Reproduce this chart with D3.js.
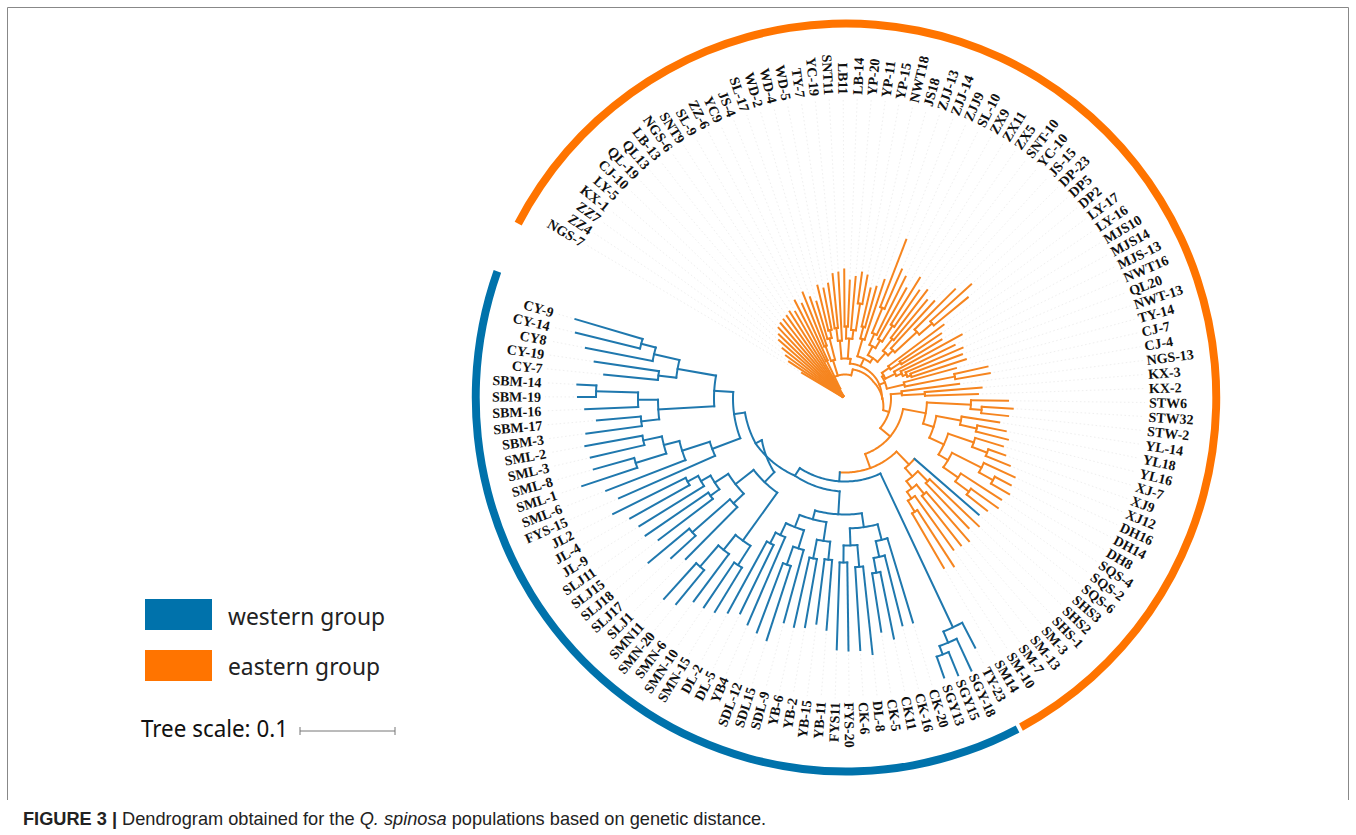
<!DOCTYPE html>
<html><head><meta charset="utf-8">
<script src="https://cdn.jsdelivr.net/npm/d3@7"></script>
<style>html,body{margin:0;padding:0;background:#fff}svg{display:block}</style>
</head><body><svg id="c" width="1356" height="835"></svg>
<script>
// ---------- data ----------
const leaves = ["NGS-7","ZZ4","ZZ7","KX-1","LY-5","CJ-10","QL-19","QL13","LB-13","NGS-6","SNT9","SL-9","ZZ-6","YC9","JS-4","SL-17","WD-2","WD-4","WD-5","TY-7","YC-19","SNT11","LB11","LB-14","YP-20","YP-11","YP-15","NWT18","JS18","ZJJ-13","ZJJ-14","ZJJ9","SL-10","ZX9","ZX11","ZX5","SNT-10","YC-10","JS-15","DP-23","DP5","DP2","LY-17","LY-16","MJS10","MJS14","MJS-13","NWT16","QL20","NWT-13","TY-14","CJ-7","CJ-4","NGS-13","KX-3","KX-2","STW6","STW32","STW-2","YL-14","YL18","YL16","XJ-7","XJ9","XJ12","DH16","DH14","DH8","SQS-4","SQS-2","SQS-6","SHS3","SHS2","SHS-1","SM-3","SM-13","SM-7","SM-10","SM14","TY-23","SGY-18","SGY15","SGY13","CK-20","CK-16","CK11","CK-5","DL-8","CK-6","FYS-20","FYS11","YB-11","YB-15","YB-2","YB-6","SDL-9","SDL15","SDL-12","YB4","DL-5","DL-2","SMN-15","SMN-10","SMN-6","SMN-20","SMN11","SLJ1","SLJ17","SLJ18","SLJ15","SLJ11","JL-9","JL-4","JL2","FYS-15","SML-6","SML-1","SML-8","SML-3","SML-2","SBM-3","SBM-17","SBM-16","SBM-19","SBM-14","CY-7","CY-19","CY8","CY-14","CY-9"];
// distance of each leaf from the centre (95 units = tree scale 0.1)
const tipDistance = [50,67,73,80,88,92,97,99,100,101,103,100,110,104,114,107,101,116,112,116,125,126,129,118,122,127,125,113,116,125,170,141,136,126,142,131,136,128,132,155,170,159,123,116,113,133,122,128,125,127,115,146,147,115,137,133,163,168,164,156,164,168,165,170,178,187,187,190,186,188,181,177,185,179,189,187,186,200,196,281,300,299,296,234,234,245,236,257,252,252,251,232,227,232,234,232,254,250,246,239,244,250,252,253,266,270,226,236,256,234,242,242,246,259,247,256,277,261,261,264,261,249,260,267,268,242,253,264,277,281];
// first/last leaf of the western group; one western leaf sits inside the eastern clade
const westernRange = [79,129], westernExtra = [71];
const groupNames = ["western group","eastern group"];
const groupColors = ["#0072AB","#FF7400"];
const branchColors = ["#1F78AE","#F6851F"];
// ring spans in degrees clockwise from 12 o'clock
const ringWestern = [152.4,289.7], ringEastern = [-62.3,151.8];
const treeScaleLabel = "Tree scale: 0.1";
const treeScaleDistance = 95;

// tree: [distance, ...children]; integers are leaves. {r,at,bend,kids} for bent/offset nodes.
const P0 = [3,0,1,2,3,4,5,6,7,8,9,10,11];
const P1 = [11,P0,[42,12,13]];
const N14_18 = [40,[56,14,15],[62,16,[70,17,18]]];
const P2 = {r:24,at:15,kids:[P1,N14_18]};
const M1 = {r:40,at:8,kids:[[58,[71,19,20],21],[60,[72,22,23],[69,24,[96,25,26]]]]};
const N27_29 = [62,[74,27,28],29];
const N_A = [59,[71,[98,30,31],32],[68,33,[87,34,35]]];
const N_B = [61,[76,36,37],[68,38,[98,39,[115,40,41]]]];
const N_C = [49,N_A,N_B];
const M3 = [44,N27_29,N_C];
const K1 = [45,[54,42,[66,43,44]],[56,45,[62,46,[66,47,[70,48,49]]]]];
const K = [43,K1,[61,50,[112,51,52]]];
const R2 = {at:90,bend:[[0,35],[60,37],[90,37]],kids:[M1,M3,K]};
const E3 = {at:107,bend:[[15,30],[60,33],[107,40]],kids:[P2,R2]};
const Q = [57,53,[80,54,55]];
const E2 = {r:46,at:130,kids:[Q,E3]};
const Y1 = [126,56,[137,57,58]];
const Y3 = [118,59,[135,60,61]];
const Y5 = [136,62,[152,63,64]];
const Y7 = [153,65,[169,66,67]];
const Y8 = [138,68,[155,69,70]];
const Y = [82,Y1,[93,Y3,[109,Y5,[120,Y7,Y8]]]];
const E1 = {r:59,at:160,kids:[Y,E2]};
const Z = {r:92,at:135.9,kids:[71,[103,[117,72,73],[112,[124,74,75],[120,76,[133,77,78]]]]]};
const T = [253,79,[265,80,[274,81,82]]];
const BR = [130,[146,83,[162,84,[177,85,86]]],[147,[169,87,88],[164,89,90]]];
const BL = [125,[144,[162,91,92],[163,93,94]],[138,[157,95,[176,96,97]],[151,98,[163,99,100]]]];
const BOT = [116,BR,BL];
const LB = [175,[198,101,102],[194,103,[222,104,105]]];
const LA = [139,[153,106,[203,107,108]],[155,[166,109,110],[166,111,[178,112,113]]]];
const LOW = [116,LB,LA];
const MID = {at:243.4,bend:[[224.4,102],[243.4,93]],kids:[LOW]};
const SM3 = [187,[219,116,117],[206,118,119]];
const SM1 = [142,114,[171,115,SM3]];
const SBMs = [187,[205,120,121],[207,122,[249,123,124]]];
const CYs = [170,[188,125,126],[196,127,[211,128,129]]];
const U = {r:112,at:262,kids:[SM1,[131,SBMs,CYs]]};
const W2 = {at:213,bend:[[184,93],[213,92],[243,100],[262,101]],kids:[BOT,MID,U]};
const B0 = {r:83,at:184,kids:[T,W2]};
const treeRoot = {r:74,kids:[Z,E1,B0]};

// ---------- layout ----------
const W=1356,H=835,cx=845,cy=398.5;
const svg=d3.select("#c");
const rad=d=>d*Math.PI/180;
const angleOf=d3.scaleLinear().domain([0,leaves.length-1]).range([-59.3,286.4]);
const rScale=d3.scaleLinear().domain([0,treeScaleDistance]).range([0,95]);
const labelR=304, ringR=[370,378];

const isWestern=i=>(i>=westernRange[0]&&i<=westernRange[1])||westernExtra.includes(i);
const root=d3.hierarchy(treeRoot,d=>{
  if(typeof d==="number")return null;
  return Array.isArray(d)?d.slice(1):d.kids;
});
root.eachAfter(n=>{
  const d=n.data;
  if(typeof d==="number"){n.angle=angleOf(d);n.rAt=()=>tipDistance[d];n.west=isWestern(d);return;}
  const as=n.children.map(c=>c.angle);
  n.lo=d3.min(as);n.hi=d3.max(as);
  n.angle=(!Array.isArray(d)&&d.at!==undefined)?d.at:(n.lo+n.hi)/2;
  n.lo=Math.min(n.lo,n.angle);n.hi=Math.max(n.hi,n.angle);
  if(!Array.isArray(d)&&d.bend){
    const s=d3.scaleLinear().domain(d.bend.map(b=>b[0])).range(d.bend.map(b=>b[1])).clamp(true);
    n.rAt=s;
  } else {
    const v=Array.isArray(d)?d[0]:d.r;
    n.rAt=()=>v;
  }
  n.west=n.children.every(c=>c.west);
});
const line=d3.lineRadial().angle(p=>rad(p[0])).radius(p=>rScale(p[1]));
const g=svg.append("g").attr("transform",`translate(${cx},${cy})`);
const col=w=>w?branchColors[0]:branchColors[1];

// faint leader lines
g.append("g").selectAll("path").data(root.leaves()).join("path")
 .attr("d",n=>line([[n.angle,n.rAt()],[n.angle,labelR-4]]))
 .attr("fill","none").attr("stroke","#efefef").attr("stroke-width",1).attr("stroke-dasharray","1.5 2.5");

// branches
const bg=g.append("g").attr("fill","none").attr("stroke-width",2).attr("stroke-linecap","square");
root.descendants().forEach(n=>{
  if(n.children){
    const pts=d3.range(n.lo,n.hi,1).concat([n.hi]).map(a=>[a,n.rAt(a)]);
    bg.append("path").attr("d",line(pts)).attr("stroke",col(n.west));
  }
  if(n.parent){
    bg.append("path").attr("d",line([[n.angle,n.parent.rAt(n.angle)],[n.angle,n.rAt(n.angle)]])).attr("stroke",col(n.west));
  }
});

// labels
g.append("g").selectAll("text").data(root.leaves()).join("text")
 .attr("transform",n=>{
   const a=n.angle, left=a<0||a>180;
   return `rotate(${a-90}) translate(${labelR},0)`+(left?" rotate(180)":"");
 })
 .attr("text-anchor",n=>(n.angle<0||n.angle>180)?"end":"start")
 .attr("dy","0.35em")
 .attr("font-family","'Liberation Serif','Times New Roman',serif")
 .attr("font-weight","bold").attr("font-size",14).attr("fill","#111")
 .text(n=>leaves[n.data]);

// outer ring (very slightly narrower than tall in the reference)
const ringG=svg.append("g").attr("transform","translate(846,397.5) scale(0.99,1)");
const arcGen=d3.arc().innerRadius(ringR[0]).outerRadius(ringR[1]);
[[ringWestern,groupColors[0]],[ringEastern,groupColors[1]]].forEach(([s,c])=>{
  ringG.append("path").attr("d",arcGen({startAngle:rad(s[0]),endAngle:rad(s[1])})).attr("fill",c);
});

// legend
const fontUI="'Noto Sans',sans-serif";
groupNames.forEach((t,i)=>{
  svg.append("rect").attr("x",145).attr("y",i?650:599).attr("width",67).attr("height",31).attr("fill",groupColors[i]);
  svg.append("text").attr("x",228).attr("y",i?675:625).attr("font-family",fontUI).attr("font-size",24)
    .attr("textLength",i?152:157).attr("lengthAdjust","spacingAndGlyphs").attr("fill","#222").text(t);
});
svg.append("text").attr("x",141).attr("y",737).attr("font-family",fontUI).attr("font-size",23)
  .attr("textLength",147).attr("lengthAdjust","spacingAndGlyphs").attr("fill","#111").text(treeScaleLabel);
const bar=[300,300+rScale(treeScaleDistance)];
svg.append("path").attr("d",`M${bar[0]},727V735M${bar[0]},731H${bar[1]}M${bar[1]},727V735`).attr("stroke","#777").attr("fill","none").attr("stroke-width",1);

// frame
svg.append("path").attr("d","M7.5,800V7.5H1348.5V800").attr("fill","none").attr("stroke","#888").attr("stroke-width",1);

// caption
const cap=svg.append("text").attr("x",23).attr("y",825).attr("font-family","'Liberation Sans',Arial,sans-serif").attr("font-size",18.2).attr("fill","#222");
cap.append("tspan").attr("font-weight","bold").text("FIGURE 3 | ");
cap.append("tspan").text("Dendrogram obtained for the ");
cap.append("tspan").attr("font-style","italic").text("Q. spinosa");
cap.append("tspan").text(" populations based on genetic distance.");
</script></body></html>
